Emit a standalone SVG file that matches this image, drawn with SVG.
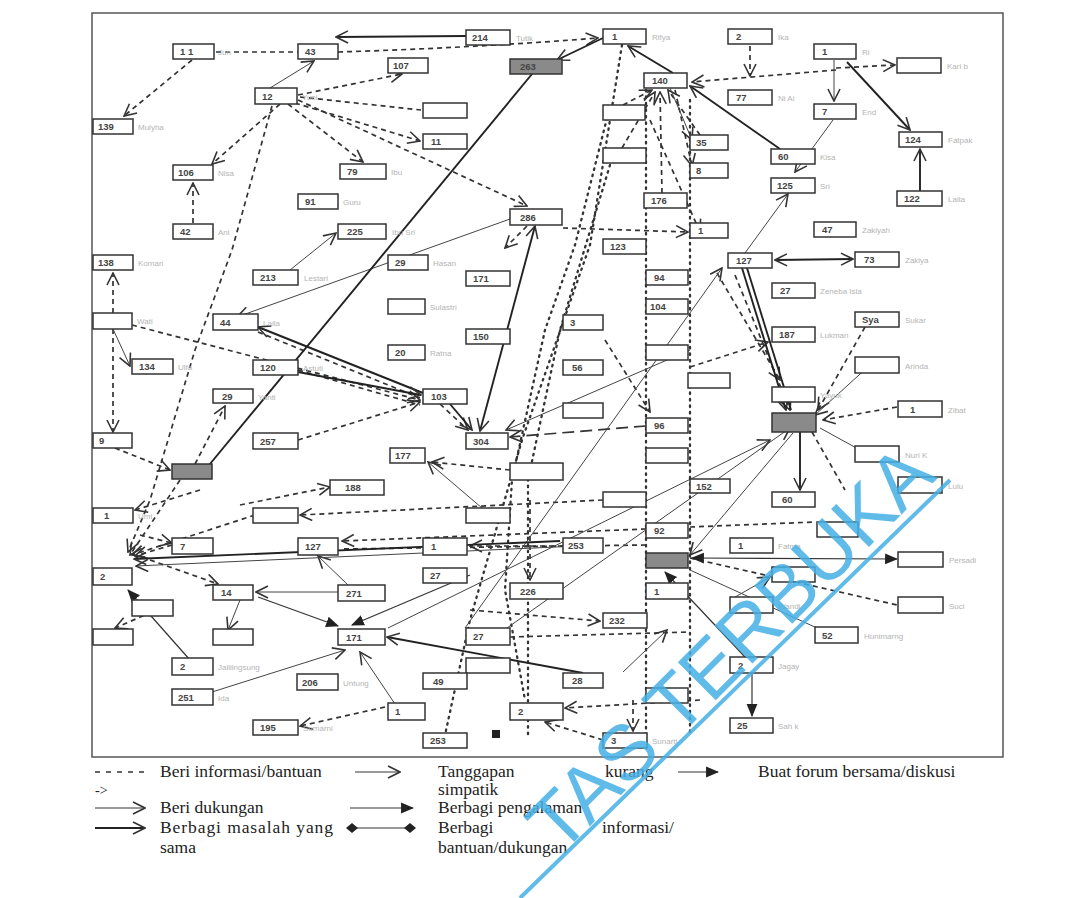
<svg xmlns="http://www.w3.org/2000/svg" width="1092" height="898" viewBox="0 0 1092 898">
<defs>
<style>
.node rect{fill:#fff;stroke:#333;stroke-width:1.5}
.node text{font-family:"Liberation Sans",Arial,sans-serif;font-size:9.5px;fill:#444;font-weight:bold}
.node text.nm{font-size:8px;fill:#b4b4b4;font-weight:normal}
.dk rect{fill:#8a8a8a}
.i{fill:none;stroke:#333;stroke-width:1.7;stroke-dasharray:5 4}
.o{fill:none;stroke:#333;stroke-width:2.3;stroke-dasharray:1.5 5;stroke-linecap:round}
.d{fill:none;stroke:#444;stroke-width:1}
.m{fill:none;stroke:#222;stroke-width:1.9}
.p{fill:none;stroke:#333;stroke-width:1.2}
.lg{font-family:"Liberation Serif","Times New Roman",serif;font-size:17.5px;fill:#222}
</style>
<marker id="oa" viewBox="0 0 14 14" refX="13" refY="7" markerWidth="14" markerHeight="14" orient="auto" markerUnits="userSpaceOnUse"><path d="M1,1 L13,7 L1,13" fill="none" stroke="#333" stroke-width="1.6"/></marker>
<marker id="oas" viewBox="0 0 14 14" refX="1" refY="7" markerWidth="14" markerHeight="14" orient="auto" markerUnits="userSpaceOnUse"><path d="M13,1 L1,7 L13,13" fill="none" stroke="#333" stroke-width="1.6"/></marker>
<marker id="fa" viewBox="0 0 12 12" refX="11" refY="6" markerWidth="13" markerHeight="13" orient="auto" markerUnits="userSpaceOnUse"><path d="M0,1 L12,6 L0,11 Z" fill="#222"/></marker>
<marker id="fas" viewBox="0 0 12 12" refX="1" refY="6" markerWidth="13" markerHeight="13" orient="auto" markerUnits="userSpaceOnUse"><path d="M12,1 L0,6 L12,11 Z" fill="#222"/></marker>
<marker id="dm" viewBox="0 0 12 12" refX="6" refY="6" markerWidth="12" markerHeight="12" orient="auto" markerUnits="userSpaceOnUse"><path d="M0,6 L6,1 L12,6 L6,11 Z" fill="#222"/></marker>
</defs>
<rect width="1092" height="898" fill="#fff"/>
<rect x="92" y="13" width="911" height="744" fill="none" stroke="#555" stroke-width="1.5"/>

<g id="connectors">
<path class="i" d="M216,52 L298,52"/>
<path class="i" d="M338,52 Q470,48 598,38" marker-end="url(#oa)"/>
<path class="i" d="M192,60 L124,116" marker-end="url(#oa)"/>
<path class="i" d="M298,95 L402,74" marker-end="url(#oa)"/>
<path class="i" d="M280,104 L212,164" marker-end="url(#oa)"/>
<path class="i" d="M288,104 L363,162" marker-end="url(#oa)"/>
<path class="i" d="M295,103 L420,141" marker-end="url(#oa)"/>
<path class="i" d="M298,100 L527,206" marker-end="url(#oa)"/>
<path class="i" d="M300,97 L421,110"/>
<path class="i" d="M193,223 L193,183" marker-end="url(#oa)"/>
<path class="i" d="M272,106 L232,250 L195,350 L150,500 L128,552" marker-end="url(#oa)"/>
<path class="i" d="M113,313 L113,273" marker-end="url(#oa)"/>
<path class="i" d="M113,329 L113,432" marker-end="url(#oa)"/>
<path class="i" d="M132,325 L420,400" marker-end="url(#oa)"/>
<path class="i" d="M115,448 L170,470" marker-end="url(#oa)"/>
<path class="i" d="M195,464 L225,406" marker-end="url(#oa)"/>
<path class="i" d="M180,480 L130,555" marker-end="url(#oa)"/>
<path class="i" d="M298,440 L420,402" marker-end="url(#oa)"/>
<path class="i" d="M258,332 L420,398"/>
<path class="i" d="M298,370 L420,405"/>
<path class="i" d="M440,404 L468,430" marker-end="url(#oa)"/>
<path class="i" d="M646,426 L510,437" style="stroke-dasharray:12 6" marker-end="url(#oa)"/>
<path class="i" d="M510,470 L432,462" marker-end="url(#oa)"/>
<path class="i" d="M605,340 L650,412" marker-end="url(#oa)"/>
<path class="i" d="M563,228 L688,232" marker-end="url(#oa)"/>
<path class="i" d="M527,226 L505,248" marker-end="url(#oa)"/>
<path class="i" d="M836,68 L895,65" marker-end="url(#oa)"/>
<path class="i" d="M836,70 L692,82" marker-end="url(#oa)"/>
<path class="i" d="M750,46 L750,76" marker-end="url(#oa)"/>
<path class="i" d="M735,275 L790,410" marker-end="url(#oa)"/>
<path class="i" d="M717,273 L780,380" marker-end="url(#oa)"/>
<path class="i" d="M690,367 L768,342" marker-end="url(#oa)"/>
<path class="i" d="M865,327 L818,410" marker-end="url(#oa)"/>
<path class="i" d="M897,407 L823,420" marker-end="url(#oa)"/>
<path class="i" d="M812,432 L845,490"/>
<path class="i" d="M646,529 L342,541" marker-end="url(#oa)"/>
<path class="i" d="M603,500 L300,515" marker-end="url(#oa)"/>
<path class="i" d="M646,545 L340,549"/>
<path class="i" d="M563,546 L470,546" marker-end="url(#oa)"/>
<path class="i" d="M530,500 L530,580" marker-end="url(#oa)"/>
<path class="i" d="M470,610 L600,621" marker-end="url(#oa)"/>
<path class="i" d="M510,637 L690,632"/>
<path class="i" d="M700,700 L565,708" marker-end="url(#oa)"/>
<path class="i" d="M603,740 L545,722" marker-end="url(#oa)"/>
<path class="i" d="M633,700 L633,731" marker-end="url(#oa)"/>
<path class="i" d="M690,558 L897,605"/>
<path class="i" d="M690,527 L815,522"/>
<path class="i" d="M385,707 L300,726" marker-end="url(#oa)"/>
<path class="i" d="M140,535 L172,543" marker-end="url(#oa)"/>
<path class="i" d="M200,490 L135,510" marker-end="url(#oa)"/>
<path class="i" d="M150,560 L218,584" marker-end="url(#oa)"/>
<path class="i" d="M255,515 L132,555" marker-end="url(#oa)"/>
<path class="i" d="M172,545 L135,556" marker-end="url(#oa)"/>
<path class="i" d="M152,612 L115,628" marker-end="url(#oa)"/>
<path class="i" d="M240,505 L330,487" marker-end="url(#oa)"/>
<path class="i" d="M623,105 L652,90" marker-end="url(#oa)"/>
<path class="i" d="M622,148 L655,92" marker-end="url(#oa)"/>
<path class="i" d="M662,193 L660,92" marker-end="url(#oa)"/>
<path class="i" d="M700,135 L668,90" marker-end="url(#oa)"/>
<path class="i" d="M675,90 L692,166" marker-end="url(#oa)"/>
<path class="i" d="M650,120 L700,232" marker-end="url(#oa)"/>
<path class="o" d="M622,45 L590,245 L522,440 L470,620 L445,735"/>
<path class="o" d="M607,118 L575,245 L545,330 L512,480 L505,590 L525,700"/>
<path class="o" d="M646,90 L646,735"/>
<path class="o" d="M690,100 L690,735"/>
<path class="o" d="M610,165 L560,330 L528,480 L528,735"/>
<path class="d" d="M270,88 L314,61" marker-end="url(#oa)"/>
<path class="d" d="M290,270 L336,233" marker-end="url(#oa)"/>
<path class="d" d="M510,219 L237,317" marker-end="url(#oa)"/>
<path class="d" d="M113,329 L130,366" marker-end="url(#oa)"/>
<path class="d" d="M834,60 L834,101" marker-end="url(#oa)"/>
<path class="d" d="M833,120 L795,172" marker-end="url(#oa)"/>
<path class="d" d="M745,253 L788,194" marker-end="url(#oa)"/>
<path class="d" d="M670,88 L692,140" marker-end="url(#oa)"/>
<path class="d" d="M690,350 L506,430" marker-end="url(#oa)"/>
<path class="d" d="M482,508 L428,462" marker-end="url(#oa)"/>
<path class="d" d="M465,628 L722,268" marker-end="url(#oa)"/>
<path class="d" d="M388,628 L770,440" marker-end="url(#oa)"/>
<path class="d" d="M507,628 L790,428" marker-end="url(#oa)"/>
<path class="d" d="M338,592 L256,592" marker-end="url(#oa)"/>
<path class="d" d="M240,600 L228,630" marker-end="url(#oa)"/>
<path class="d" d="M348,585 L318,556" marker-end="url(#oa)"/>
<path class="d" d="M212,692 L345,650" marker-end="url(#oa)"/>
<path class="d" d="M395,704 L360,652" marker-end="url(#oa)"/>
<path class="d" d="M690,570 L817,628"/>
<path class="d" d="M730,600 L770,577" marker-end="url(#oa)"/>
<path class="d" d="M623,672 L667,630" marker-end="url(#oa)"/>
<path class="d" d="M870,365 L815,415" marker-end="url(#oa)"/>
<path class="d" d="M820,428 L860,450"/>
<path class="d" d="M600,545 L136,566" marker-end="url(#oa)"/>
<path class="d" d="M793,433 L690,555" marker-end="url(#oa)"/>
<path class="m" d="M466,36 L336,37" marker-end="url(#oa)"/>
<path class="m" d="M603,38 L557,60" marker-end="url(#oa)"/>
<path class="m" d="M673,73 L628,46" marker-end="url(#oa)"/>
<path class="m" d="M780,149 L690,86" marker-end="url(#oa)"/>
<path class="m" d="M847,62 L910,130" marker-end="url(#oa)"/>
<path class="m" d="M920,191 L920,149" marker-end="url(#oa)"/>
<path class="m" d="M535,226 L480,431" marker-start="url(#oas)" marker-end="url(#oa)"/>
<path class="m" d="M423,393 L258,327" marker-end="url(#oa)"/>
<path class="m" d="M298,372 L421,395" marker-end="url(#oa)"/>
<path class="m" d="M450,404 L472,430" marker-end="url(#oa)"/>
<path class="m" d="M742,268 L786,410" marker-end="url(#oa)"/>
<path class="m" d="M747,268 L791,410"/>
<path class="m" d="M560,541 L134,559" marker-end="url(#oa)"/>
<path class="m" d="M583,673 L387,637" marker-end="url(#oa)"/>
<path class="m" d="M775,260 L853,259" marker-start="url(#oas)" marker-end="url(#oa)"/>
<path class="m" d="M800,432 L800,490" marker-end="url(#oa)"/>
<path class="p" d="M692,558 L897,559" marker-start="url(#fas)" marker-end="url(#fa)"/>
<path class="p" d="M745,657 L665,572" marker-end="url(#fa)"/>
<path class="p" d="M752,673 L752,716" marker-end="url(#fa)"/>
<path class="p" d="M190,660 L128,590" marker-end="url(#fa)"/>
<path class="p" d="M258,597 L338,626" marker-end="url(#fa)"/>
<path class="p" d="M470,575 L352,625" marker-end="url(#fa)"/>
<path class="m" d="M205,470 L537,68" marker-start="url(#dm)" marker-end="url(#dm)"/>
</g>

<g id="n111" class="node"><rect x="173" y="44" width="41" height="15"/><text x="180" y="55">1 1</text><text class="nm" x="218" y="55">Jun</text></g>
<g id="n43" class="node"><rect x="298" y="44" width="40" height="15"/><text x="305" y="55">43</text></g>
<g id="n214" class="node"><rect x="466" y="30" width="44" height="15"/><text x="472" y="41">214</text><text class="nm" x="516" y="41">Tutik</text></g>
<g id="n107" class="node"><rect x="388" y="58" width="40" height="15"/><text x="393" y="69">107</text></g>
<g id="n14a" class="node"><rect x="603" y="29" width="43" height="15"/><text x="612" y="40">1</text><text class="nm" x="652" y="40">Rifya</text></g>
<g id="n263" class="node dk"><rect x="510" y="59" width="52" height="15"/><text x="520" y="70">263</text></g>
<g id="n140" class="node"><rect x="644" y="73" width="43" height="15"/><text x="652" y="84">140</text></g>
<g id="n2a" class="node"><rect x="728" y="29" width="44" height="15"/><text x="736" y="40">2</text><text class="nm" x="778" y="40">Ika</text></g>
<g id="n1a" class="node"><rect x="814" y="44" width="42" height="15"/><text x="822" y="55">1</text><text class="nm" x="862" y="55">Ri</text></g>
<g id="nKari" class="node"><rect x="897" y="58" width="44" height="15"/><text class="nm" x="947" y="69">Kari b</text></g>
<g id="n12" class="node"><rect x="255" y="88" width="42" height="16"/><text x="262" y="100">12</text><text class="nm" x="302" y="100">Yuni</text></g>
<g id="n139" class="node"><rect x="93" y="119" width="40" height="15"/><text x="98" y="130">139</text><text class="nm" x="138" y="130">Mulyha</text></g>
<g id="n77" class="node"><rect x="728" y="90" width="44" height="15"/><text x="736" y="101">77</text><text class="nm" x="778" y="101">Ni Ai</text></g>
<g id="nEnd" class="node"><rect x="814" y="104" width="42" height="15"/><text x="822" y="115">7</text><text class="nm" x="862" y="115">End</text></g>
<g id="n124" class="node"><rect x="899" y="132" width="43" height="15"/><text x="905" y="143">124</text><text class="nm" x="948" y="143">Fatpak</text></g>
<g id="nA1" class="node"><rect x="423" y="103" width="44" height="15"/></g>
<g id="n11" class="node"><rect x="423" y="134" width="44" height="15"/><text x="431" y="145">11</text></g>
<g id="nB1" class="node"><rect x="603" y="105" width="42" height="15"/></g>
<g id="n35" class="node"><rect x="690" y="135" width="38" height="15"/><text x="696" y="146">35</text></g>
<g id="nB2" class="node"><rect x="603" y="148" width="43" height="15"/></g>
<g id="n60a" class="node"><rect x="771" y="149" width="44" height="15"/><text x="778" y="160">60</text><text class="nm" x="820" y="160">Kisa</text></g>
<g id="n106" class="node"><rect x="173" y="165" width="40" height="15"/><text x="178" y="176">106</text><text class="nm" x="218" y="176">Nisa</text></g>
<g id="n79" class="node"><rect x="340" y="164" width="46" height="15"/><text x="347" y="175">79</text><text class="nm" x="391" y="175">Ibu</text></g>
<g id="n8" class="node"><rect x="690" y="163" width="38" height="15"/><text x="696" y="174">8</text></g>
<g id="n125" class="node"><rect x="771" y="178" width="44" height="15"/><text x="777" y="189">125</text><text class="nm" x="820" y="189">Sri</text></g>
<g id="n122" class="node"><rect x="897" y="191" width="45" height="15"/><text x="904" y="202">122</text><text class="nm" x="948" y="202">Laila</text></g>
<g id="n91" class="node"><rect x="298" y="194" width="40" height="15"/><text x="305" y="205">91</text><text class="nm" x="343" y="205">Guru</text></g>
<g id="n176" class="node"><rect x="644" y="193" width="43" height="15"/><text x="651" y="204">176</text></g>
<g id="n286" class="node"><rect x="510" y="209" width="52" height="16"/><text x="520" y="221">286</text></g>
<g id="n42" class="node"><rect x="173" y="224" width="40" height="15"/><text x="180" y="235">42</text><text class="nm" x="218" y="235">Ani</text></g>
<g id="n225" class="node"><rect x="338" y="224" width="48" height="15"/><text x="347" y="235">225</text><text class="nm" x="392" y="235">Ibu Sri</text></g>
<g id="n47" class="node"><rect x="814" y="222" width="42" height="15"/><text x="822" y="233">47</text><text class="nm" x="862" y="233">Zakiyah</text></g>
<g id="n1b" class="node"><rect x="690" y="223" width="38" height="15"/><text x="698" y="234">1</text></g>
<g id="n123" class="node"><rect x="603" y="239" width="43" height="15"/><text x="610" y="250">123</text></g>
<g id="n127" class="node"><rect x="728" y="253" width="44" height="15"/><text x="736" y="264">127</text></g>
<g id="n73" class="node"><rect x="855" y="252" width="44" height="15"/><text x="864" y="263">73</text><text class="nm" x="905" y="263">Zakiya</text></g>
<g id="n138" class="node"><rect x="93" y="255" width="40" height="15"/><text x="98" y="266">138</text><text class="nm" x="138" y="266">Komari</text></g>
<g id="n29a" class="node"><rect x="388" y="255" width="40" height="15"/><text x="395" y="266">29</text><text class="nm" x="433" y="266">Hasan</text></g>
<g id="n213" class="node"><rect x="253" y="270" width="45" height="15"/><text x="260" y="281">213</text><text class="nm" x="304" y="281">Lestari</text></g>
<g id="n171b" class="node"><rect x="466" y="271" width="44" height="15"/><text x="473" y="282">171</text></g>
<g id="n94" class="node"><rect x="646" y="270" width="42" height="15"/><text x="654" y="281">94</text></g>
<g id="n27a" class="node"><rect x="772" y="283" width="43" height="15"/><text x="780" y="294">27</text><text class="nm" x="820" y="294">Zeneba Isla</text></g>
<g id="n104" class="node"><rect x="646" y="299" width="42" height="15"/><text x="650" y="310">104</text></g>
<g id="nX" class="node"><rect x="388" y="299" width="37" height="15"/><text class="nm" x="430" y="310">Sulastri</text></g>
<g id="nC" class="node"><rect x="93" y="313" width="39" height="16"/><text class="nm" x="137" y="324">Wati</text></g>
<g id="n44" class="node"><rect x="213" y="314" width="45" height="16"/><text x="220" y="326">44</text><text class="nm" x="263" y="326">Laila</text></g>
<g id="nSya" class="node"><rect x="855" y="312" width="44" height="15"/><text x="862" y="323">Sya</text><text class="nm" x="905" y="323">Sukar</text></g>
<g id="n3a" class="node"><rect x="563" y="315" width="40" height="15"/><text x="570" y="326">3</text></g>
<g id="n150" class="node"><rect x="466" y="329" width="44" height="15"/><text x="473" y="340">150</text></g>
<g id="n187" class="node"><rect x="772" y="327" width="43" height="15"/><text x="779" y="338">187</text><text class="nm" x="820" y="338">Lukman</text></g>
<g id="n20" class="node"><rect x="388" y="345" width="37" height="15"/><text x="395" y="356">20</text><text class="nm" x="430" y="356">Ratna</text></g>
<g id="nY" class="node"><rect x="646" y="345" width="42" height="15"/></g>
<g id="n134" class="node"><rect x="132" y="359" width="41" height="15"/><text x="139" y="370">134</text><text class="nm" x="178" y="370">Ulfa</text></g>
<g id="n120" class="node"><rect x="253" y="360" width="45" height="15"/><text x="260" y="371">120</text><text class="nm" x="303" y="371">Astuti</text></g>
<g id="nAr" class="node"><rect x="855" y="357" width="44" height="16"/><text class="nm" x="905" y="369">Arinda</text></g>
<g id="n56" class="node"><rect x="563" y="360" width="40" height="15"/><text x="572" y="371">56</text></g>
<g id="nZ" class="node"><rect x="688" y="373" width="42" height="15"/></g>
<g id="n29" class="node"><rect x="213" y="389" width="40" height="14"/><text x="222" y="400">29</text><text class="nm" x="258" y="400">Yanti</text></g>
<g id="n103" class="node"><rect x="423" y="389" width="44" height="15"/><text x="431" y="400">103</text></g>
<g id="nW" class="node"><rect x="772" y="387" width="43" height="15"/><text class="nm" x="820" y="398">Yayuk</text></g>
<g id="nV" class="node"><rect x="563" y="403" width="40" height="15"/></g>
<g id="n1c" class="node"><rect x="898" y="401" width="44" height="16"/><text x="910" y="413">1</text><text class="nm" x="948" y="413">Zibat</text></g>
<g id="nHub" class="node dk"><rect x="772" y="413" width="44" height="19"/></g>
<g id="n96" class="node"><rect x="646" y="418" width="42" height="15"/><text x="654" y="429">96</text></g>
<g id="n304" class="node"><rect x="466" y="433" width="42" height="16"/><text x="473" y="445">304</text></g>
<g id="n9" class="node"><rect x="93" y="433" width="39" height="15"/><text x="99" y="444">9</text></g>
<g id="n257" class="node"><rect x="253" y="433" width="45" height="16"/><text x="260" y="445">257</text></g>
<g id="n177" class="node"><rect x="390" y="448" width="35" height="15"/><text x="395" y="459">177</text></g>
<g id="nU" class="node"><rect x="646" y="448" width="42" height="15"/></g>
<g id="nNuri" class="node"><rect x="855" y="446" width="44" height="16"/><text class="nm" x="905" y="458">Nuri K</text></g>
<g id="nGray" class="node dk"><rect x="172" y="464" width="40" height="15"/></g>
<g id="nT" class="node"><rect x="510" y="463" width="53" height="17"/></g>
<g id="n152" class="node"><rect x="690" y="479" width="40" height="14"/><text x="696" y="490">152</text></g>
<g id="nR" class="node"><rect x="898" y="477" width="44" height="16"/><text class="nm" x="948" y="489">Lulu</text></g>
<g id="n188" class="node"><rect x="330" y="480" width="54" height="15"/><text x="345" y="491">188</text></g>
<g id="n60" class="node"><rect x="772" y="492" width="43" height="15"/><text x="782" y="503">60</text></g>
<g id="nQ" class="node"><rect x="603" y="492" width="43" height="15"/></g>
<g id="n1d" class="node"><rect x="93" y="508" width="40" height="15"/><text x="104" y="519">1</text><text class="nm" x="138" y="519">Umi</text></g>
<g id="nP" class="node"><rect x="253" y="508" width="45" height="15"/></g>
<g id="nO" class="node"><rect x="466" y="508" width="44" height="15"/></g>
<g id="nK" class="node"><rect x="817" y="522" width="41" height="15"/></g>
<g id="n92" class="node"><rect x="646" y="523" width="42" height="15"/><text x="654" y="534">92</text></g>
<g id="n1e" class="node"><rect x="730" y="538" width="43" height="15"/><text x="738" y="549">1</text><text class="nm" x="778" y="549">Fatma</text></g>
<g id="n7" class="node"><rect x="172" y="538" width="41" height="16"/><text x="180" y="550">7</text></g>
<g id="n127b" class="node"><rect x="298" y="538" width="40" height="17"/><text x="305" y="550">127</text></g>
<g id="n1f" class="node"><rect x="423" y="538" width="44" height="17"/><text x="431" y="550">1</text></g>
<g id="n253" class="node"><rect x="563" y="538" width="40" height="15"/><text x="568" y="549">253</text></g>
<g id="nH" class="node"><rect x="898" y="552" width="45" height="15"/><text class="nm" x="949" y="563">Persadi</text></g>
<g id="nDark" class="node dk"><rect x="646" y="553" width="42" height="15"/></g>
<g id="n2b" class="node"><rect x="93" y="568" width="39" height="17"/><text x="100" y="580">2</text></g>
<g id="nG" class="node"><rect x="772" y="567" width="43" height="15"/></g>
<g id="n14" class="node"><rect x="213" y="585" width="40" height="15"/><text x="221" y="596">14</text></g>
<g id="n271" class="node"><rect x="338" y="585" width="47" height="16"/><text x="346" y="597">271</text></g>
<g id="n27b" class="node"><rect x="423" y="568" width="44" height="15"/><text x="430" y="579">27</text></g>
<g id="n226" class="node"><rect x="510" y="583" width="53" height="16"/><text x="520" y="595">226</text></g>
<g id="n1g" class="node"><rect x="646" y="583" width="42" height="16"/><text x="654" y="595">1</text></g>
<g id="nE" class="node"><rect x="132" y="600" width="41" height="16"/></g>
<g id="n1h" class="node"><rect x="730" y="597" width="43" height="16"/><text class="nm" x="778" y="609">Wandi</text></g>
<g id="nC2" class="node"><rect x="898" y="597" width="45" height="16"/><text class="nm" x="949" y="609">Suci</text></g>
<g id="n232" class="node"><rect x="603" y="613" width="44" height="15"/><text x="609" y="624">232</text></g>
<g id="n52" class="node"><rect x="815" y="627" width="43" height="16"/><text x="822" y="639">52</text><text class="nm" x="864" y="639">Hunimarng</text></g>
<g id="nB3" class="node"><rect x="93" y="629" width="40" height="16"/></g>
<g id="n1i" class="node"><rect x="213" y="629" width="40" height="16"/></g>
<g id="n171" class="node"><rect x="338" y="629" width="47" height="16"/><text x="346" y="641">171</text></g>
<g id="n27c" class="node"><rect x="466" y="628" width="44" height="17"/><text x="473" y="640">27</text></g>
<g id="n2c" class="node"><rect x="730" y="657" width="43" height="16"/><text x="738" y="669">2</text><text class="nm" x="778" y="669">Jagay</text></g>
<g id="n2d" class="node"><rect x="172" y="658" width="41" height="17"/><text x="180" y="670">2</text><text class="nm" x="218" y="670">Jalilingsung</text></g>
<g id="nA3" class="node"><rect x="466" y="658" width="44" height="15"/></g>
<g id="n206" class="node"><rect x="297" y="674" width="41" height="16"/><text x="302" y="686">206</text><text class="nm" x="343" y="686">Untung</text></g>
<g id="n49" class="node"><rect x="423" y="673" width="44" height="16"/><text x="433" y="685">49</text></g>
<g id="n28" class="node"><rect x="563" y="673" width="40" height="15"/><text x="572" y="684">28</text></g>
<g id="nA4" class="node"><rect x="646" y="688" width="42" height="15"/></g>
<g id="n251" class="node"><rect x="172" y="689" width="41" height="16"/><text x="178" y="701">251</text><text class="nm" x="218" y="701">Ida</text></g>
<g id="n1j" class="node"><rect x="388" y="703" width="37" height="17"/><text x="395" y="715">1</text></g>
<g id="n2e" class="node"><rect x="510" y="703" width="53" height="17"/><text x="518" y="715">2</text></g>
<g id="n195" class="node"><rect x="253" y="720" width="45" height="15"/><text x="260" y="731">195</text><text class="nm" x="303" y="731">Sumarni</text></g>
<g id="n25" class="node"><rect x="730" y="718" width="43" height="15"/><text x="737" y="729">25</text><text class="nm" x="778" y="729">Sah k</text></g>
<g id="n253b" class="node"><rect x="423" y="733" width="44" height="15"/><text x="430" y="744">253</text></g>
<g id="n3" class="node"><rect x="603" y="733" width="44" height="15"/><text x="611" y="744">3</text><text class="nm" x="652" y="744">Sunarti</text></g>
<rect x="492" y="730" width="8" height="8" fill="#222"/>

<g id="legend">
<line x1="95" y1="772" x2="150" y2="772" stroke="#333" stroke-width="1.3" stroke-dasharray="5 6"/>
<text class="lg" x="160" y="777">Beri informasi/bantuan</text>
<text class="lg" x="95" y="795" style="font-size:14px">-&gt;</text>
<line x1="95" y1="808" x2="145" y2="808" stroke="#333" stroke-width="1" marker-end="url(#oa)"/>
<text class="lg" x="160" y="813">Beri dukungan</text>
<line x1="95" y1="828" x2="145" y2="828" stroke="#222" stroke-width="2" marker-end="url(#oa)"/>
<text class="lg" x="160" y="833" textLength="173" lengthAdjust="spacing">Berbagi masalah yang</text>
<text class="lg" x="160" y="853">sama</text>
<line x1="355" y1="772" x2="400" y2="772" stroke="#333" stroke-width="1" marker-end="url(#oa)"/>
<text class="lg" x="438" y="777">Tanggapan</text>
<text class="lg" x="605" y="777">kurang</text>
<text class="lg" x="438" y="795">simpatik</text>
<line x1="350" y1="808" x2="413" y2="808" stroke="#333" stroke-width="1.2" marker-end="url(#fa)"/>
<text class="lg" x="438" y="813">Berbagi pengalaman</text>
<line x1="352" y1="828" x2="410" y2="828" stroke="#333" stroke-width="1.2" marker-start="url(#dm)" marker-end="url(#dm)"/>
<text class="lg" x="438" y="833">Berbagi</text>
<text class="lg" x="602" y="833">informasi/</text>
<text class="lg" x="438" y="853">bantuan/dukungan</text>
<line x1="678" y1="772" x2="718" y2="772" stroke="#333" stroke-width="1.2" marker-end="url(#fa)"/>
<text class="lg" x="758" y="777">Buat forum bersama/diskusi</text>
</g>

<g id="watermark" opacity="0.85">
<text x="938" y="478" text-anchor="end" transform="rotate(-45 938 478)" font-family="Liberation Sans, Arial, sans-serif" font-size="78" fill="#45b0e6">TAS TERBUKA</text>
<line x1="950" y1="480" x2="520" y2="898" stroke="#45b0e6" stroke-width="4"/>
</g>
</svg>
